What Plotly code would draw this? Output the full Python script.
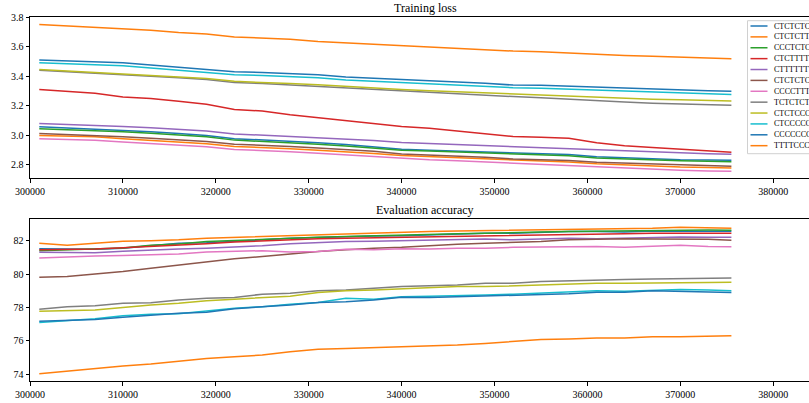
import plotly.graph_objects as go
from plotly.subplots import make_subplots

steps = [301000, 304000, 307000, 310000, 313000, 316000, 319000, 322000, 325000,
         328000, 331000, 334000, 337000, 340000, 343000, 346000, 349000, 352000,
         355000, 358000, 361000, 364000, 367000, 370000, 373000, 375500]

labels = ["CTCTCTCT", "CTCTCTTT", "CCCTCTCT", "CTCTTTTT", "CTTTTTTT", "CTCTCTCC",
          "CCCCTTTT", "TCTCTCTC", "CTCTCCCC", "CTCCCCCC", "CCCCCCCC", "TTTTCCCC"]

colors = ["#1f77b4", "#ff7f0e", "#2ca02c", "#d62728", "#9467bd", "#8c564b",
          "#e377c2", "#7f7f7f", "#bcbd22", "#17becf", "#1f77b4", "#ff7f0e"]

# Training loss
train_1 = [3.058, 3.05, 3.045, 3.035, 3.025, 3.012, 3.0, 2.978, 2.97, 2.96, 2.95, 2.938, 2.925,
           2.907, 2.9, 2.895, 2.888, 2.88, 2.876, 2.87, 2.855, 2.848, 2.842, 2.836, 2.834, 2.832]
train_2 = [3.0, 2.995, 2.99, 2.978, 2.968, 2.955, 2.943, 2.925, 2.92, 2.91, 2.9, 2.89, 2.878,
           2.864, 2.857, 2.85, 2.842, 2.832, 2.826, 2.82, 2.808, 2.8, 2.793, 2.786, 2.783, 2.78]
train_3 = [3.045, 3.04, 3.035, 3.025, 3.015, 3.0, 2.99, 2.968, 2.96, 2.95, 2.94, 2.928, 2.916,
           2.9, 2.894, 2.888, 2.88, 2.872, 2.868, 2.862, 2.848, 2.84, 2.834, 2.828, 2.825, 2.822]
train_4 = [3.31, 3.295, 3.285, 3.26, 3.25, 3.23, 3.21, 3.175, 3.165, 3.14, 3.12, 3.10, 3.08,
           3.06, 3.048, 3.03, 3.01, 2.992, 2.988, 2.98, 2.95, 2.93, 2.918, 2.908, 2.897, 2.886]
train_5 = [3.08, 3.075, 3.07, 3.06, 3.052, 3.04, 3.03, 3.01, 3.002, 2.993, 2.985, 2.975, 2.965,
           2.952, 2.945, 2.938, 2.93, 2.92, 2.915, 2.91, 2.9, 2.893, 2.886, 2.88, 2.876, 2.872]
train_6 = [3.012, 3.005, 3.0, 2.99, 2.98, 2.968, 2.958, 2.94, 2.935, 2.925, 2.915, 2.904, 2.892,
           2.875, 2.868, 2.86, 2.852, 2.84, 2.836, 2.83, 2.818, 2.812, 2.805, 2.798, 2.794, 2.791]
train_7 = [2.977, 2.972, 2.967, 2.956, 2.946, 2.933, 2.923, 2.905, 2.9, 2.89, 2.88, 2.868, 2.856,
           2.842, 2.835, 2.828, 2.82, 2.81, 2.804, 2.797, 2.785, 2.778, 2.771, 2.764, 2.76, 2.757]
train_8 = [3.44, 3.43, 3.425, 3.415, 3.405, 3.39, 3.378, 3.357, 3.35, 3.34, 3.332, 3.32, 3.308,
           3.297, 3.29, 3.28, 3.27, 3.262, 3.255, 3.245, 3.232, 3.225, 3.218, 3.212, 3.207, 3.204]
train_9 = [3.445, 3.435, 3.43, 3.42, 3.41, 3.395, 3.385, 3.365, 3.36, 3.35, 3.342, 3.33, 3.32,
           3.31, 3.302, 3.295, 3.285, 3.278, 3.272, 3.265, 3.255, 3.25, 3.245, 3.24, 3.236, 3.233]
train_10 = [3.49, 3.485, 3.48, 3.47, 3.455, 3.44, 3.43, 3.41, 3.405, 3.398, 3.39, 3.375, 3.366,
            3.357, 3.35, 3.342, 3.334, 3.322, 3.318, 3.312, 3.302, 3.295, 3.289, 3.284, 3.28, 3.276]
train_11 = [3.51, 3.505, 3.50, 3.49, 3.475, 3.46, 3.45, 3.43, 3.425, 3.418, 3.41, 3.395, 3.385,
            3.375, 3.37, 3.36, 3.352, 3.34, 3.338, 3.332, 3.322, 3.315, 3.31, 3.306, 3.302, 3.299]
train_12 = [3.75, 3.74, 3.735, 3.72, 3.71, 3.695, 3.685, 3.665, 3.66, 3.65, 3.635, 3.625, 3.615,
            3.605, 3.595, 3.585, 3.575, 3.57, 3.565, 3.555, 3.545, 3.54, 3.535, 3.53, 3.525, 3.518]

# Evaluation accuracy
eval_1 = [81.52, 81.5, 81.48, 81.55, 81.7, 81.85, 81.88, 81.95, 82.05, 82.15, 82.2, 82.22, 82.28,
          82.3, 82.35, 82.4, 82.45, 82.45, 82.5, 82.55, 82.55, 82.52, 82.58, 82.55, 82.56, 82.56]
eval_2 = [81.84, 81.72, 81.85, 81.96, 82.0, 82.05, 82.15, 82.2, 82.25, 82.3, 82.38, 82.42, 82.45,
          82.5, 82.55, 82.58, 82.6, 82.65, 82.66, 82.7, 82.72, 82.72, 82.74, 82.8, 82.78, 82.75]
eval_3 = [81.4, 81.45, 81.5, 81.56, 81.72, 81.8, 81.95, 82.02, 82.1, 82.15, 82.2, 82.25, 82.3,
          82.36, 82.38, 82.42, 82.45, 82.5, 82.52, 82.55, 82.57, 82.58, 82.62, 82.63, 82.64, 82.63]
eval_4 = [81.46, 81.48, 81.5, 81.58, 81.65, 81.72, 81.82, 81.92, 82.0, 82.08, 82.12, 82.15, 82.18,
          82.22, 82.25, 82.28, 82.3, 82.32, 82.35, 82.38, 82.4, 82.42, 82.44, 82.45, 82.45, 82.44]
eval_5 = [81.31, 81.3, 81.28, 81.36, 81.45, 81.5, 81.55, 81.62, 81.7, 81.82, 81.9, 81.95, 81.97,
          82.0, 82.05, 82.08, 82.1, 82.05, 82.12, 82.15, 82.12, 82.15, 82.18, 82.22, 82.2, 82.2]
eval_6 = [79.81, 79.85, 80.0, 80.15, 80.35, 80.55, 80.72, 80.92, 81.05, 81.2, 81.35, 81.45, 81.55,
          81.6, 81.7, 81.78, 81.85, 81.88, 81.95, 82.05, 82.08, 82.12, 82.1, 82.1, 82.08, 82.02]
eval_7 = [80.96, 81.03, 81.08, 81.12, 81.18, 81.2, 81.32, 81.38, 81.4, 81.32, 81.35, 81.48, 81.45,
          81.52, 81.5, 81.55, 81.55, 81.6, 81.62, 81.65, 81.65, 81.6, 81.65, 81.72, 81.65, 81.64]
eval_8 = [77.9, 78.05, 78.1, 78.25, 78.28, 78.45, 78.55, 78.6, 78.8, 78.85, 79.0, 79.05, 79.15,
          79.25, 79.3, 79.35, 79.45, 79.45, 79.55, 79.6, 79.62, 79.68, 79.7, 79.72, 79.75, 79.77]
eval_9 = [77.78, 77.8, 77.85, 78.0, 78.15, 78.25, 78.4, 78.5, 78.6, 78.68, 78.9, 79.0, 79.05,
          79.12, 79.2, 79.25, 79.25, 79.3, 79.38, 79.42, 79.45, 79.45, 79.48, 79.48, 79.5, 79.51]
eval_10 = [77.1, 77.22, 77.32, 77.5, 77.6, 77.62, 77.8, 77.95, 78.05, 78.2, 78.3, 78.55, 78.5,
           78.65, 78.68, 78.7, 78.75, 78.8, 78.88, 78.95, 79.0, 78.98, 79.02, 79.08, 79.05, 79.0]
eval_11 = [77.18, 77.22, 77.28, 77.42, 77.55, 77.65, 77.72, 77.92, 78.05, 78.15, 78.3, 78.35, 78.45,
           78.62, 78.6, 78.65, 78.7, 78.75, 78.8, 78.82, 78.92, 78.92, 79.0, 78.98, 78.95, 78.9]
eval_12 = [74.04, 74.2, 74.32, 74.5, 74.62, 74.78, 74.95, 75.05, 75.15, 75.35, 75.5, 75.55, 75.6,
           75.65, 75.72, 75.75, 75.85, 75.95, 76.08, 76.12, 76.18, 76.18, 76.25, 76.25, 76.27, 76.31]

train_series = [train_1, train_2, train_3, train_4, train_5, train_6,
                train_7, train_8, train_9, train_10, train_11, train_12]
eval_series = [eval_1, eval_2, eval_3, eval_4, eval_5, eval_6,
               eval_7, eval_8, eval_9, eval_10, eval_11, eval_12]

W, H = 809, 403
ML, MR, MT, MB = 30, 0, 17, 22
PW, PH = W - ML - MR, H - MT - MB


def px_x(px):
    return (px - ML) / PW


def px_y(py):
    return 1 - (py - MT) / PH


fig = make_subplots(rows=2, cols=1)

for lab, col, tr, ev in zip(labels, colors, train_series, eval_series):
    fig.add_trace(go.Scatter(x=steps, y=tr, mode="lines", name=lab,
                             line=dict(color=col, width=1.5), showlegend=False),
                  row=1, col=1)
    fig.add_trace(go.Scatter(x=steps, y=ev, mode="lines", name=lab,
                             line=dict(color=col, width=1.5), showlegend=False),
                  row=2, col=1)

font = "Liberation Serif"
axis_common = dict(showline=True, linecolor="black", linewidth=1, showgrid=False,
                   zeroline=False, ticks="outside", ticklen=3.5, tickwidth=0.8,
                   tickcolor="black", tickfont=dict(family=font, size=10, color="black"))

fig.update_layout(
    width=W, height=H,
    margin=dict(l=ML, r=MR, t=MT, b=MB),
    plot_bgcolor="white", paper_bgcolor="white",
    showlegend=False,
    font=dict(family=font, color="black"),
    xaxis=dict(domain=[0, 1], range=[300000, 300000 + PW / 92.9 * 10000],
               tick0=300000, dtick=10000, tickformat="d", mirror=True, **axis_common),
    xaxis2=dict(domain=[0, 1], range=[300000, 300000 + PW / 92.9 * 10000],
                tick0=300000, dtick=10000, tickformat="d", mirror=True, **axis_common),
    yaxis=dict(domain=[px_y(178.3), 1], range=[2.71, 3.80], tick0=2.8, dtick=0.2,
               tickformat=".1f", **axis_common),
    yaxis2=dict(domain=[0, px_y(219.3)], range=[73.6, 83.28], tick0=74, dtick=2,
                **axis_common),
)

annotations = [
    dict(text="Training loss", x=px_x(425), y=px_y(7.5), xref="paper", yref="paper",
         showarrow=False, xanchor="center", yanchor="middle",
         font=dict(family=font, size=12, color="black")),
    dict(text="Evaluation accuracy", x=px_x(425), y=px_y(210), xref="paper", yref="paper",
         showarrow=False, xanchor="center", yanchor="middle",
         font=dict(family=font, size=12, color="black")),
]
shapes = [
    dict(type="rect", xref="paper", yref="paper", x0=px_x(747.5), x1=px_x(830),
         y0=px_y(153.7), y1=px_y(20.7), line=dict(color="#d0d0d0", width=1),
         fillcolor="rgba(255,255,255,0.8)", layer="above"),
]
for i, (lab, col) in enumerate(zip(labels, colors)):
    ypx = 26 + 10.88 * i
    shapes.append(dict(type="line", xref="paper", yref="paper", x0=px_x(750.5), x1=px_x(767.5),
                       y0=px_y(ypx), y1=px_y(ypx), line=dict(color=col, width=1.5), layer="above"))
    annotations.append(dict(text=lab, x=px_x(772), y=px_y(ypx), xref="paper", yref="paper",
                            showarrow=False, xanchor="left", yanchor="middle",
                            font=dict(family=font, size=8, color="black")))

fig.update_layout(annotations=annotations, shapes=shapes)

fig.write_html("out.html", config={"displayModeBar": False},
               post_script="document.body.style.margin='0';document.body.style.overflow='hidden';")
